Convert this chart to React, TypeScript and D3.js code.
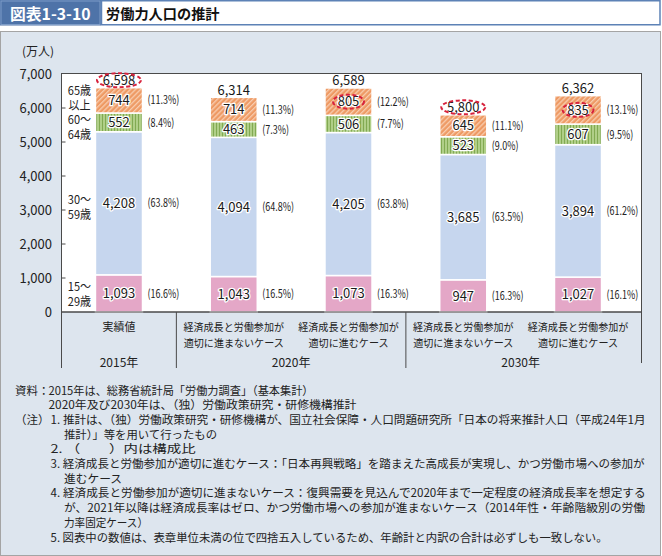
import React from 'react';
import * as d3 from 'd3';

const categories = [
  ['実績値'],
  ['経済成長と労働参加が', '適切に進まないケース'],
  ['経済成長と労働参加が', '適切に進むケース'],
  ['経済成長と労働参加が', '適切に進まないケース'],
  ['経済成長と労働参加が', '適切に進むケース'],
];
const yearLabels = ['2015年', '2020年', '2030年'];
const yearFirst = [0, 1, 3];
const yearLast = [0, 2, 4];

const age15to29 = [1093, 1043, 1073, 947, 1027];
const age30to59 = [4208, 4094, 4205, 3685, 3894];
const age60to64 = [552, 463, 506, 523, 607];
const age65plus = [744, 714, 805, 645, 835];
const totals = [6598, 6314, 6589, 5800, 6362];

const pct15to29 = ['16.6', '16.5', '16.3', '16.3', '16.1'];
const pct30to59 = ['63.8', '64.8', '63.8', '63.5', '61.2'];
const pct60to64 = ['8.4', '7.3', '7.7', '9.0', '9.5'];
const pct65plus = ['11.3', '11.3', '12.2', '11.1', '13.1'];

const ageLabels = [['15～', '29歳'], ['30～', '59歳'], ['60～', '64歳'], ['65歳', '以上']];
const highlightTotal = [true, false, false, true, false];
const highlight65 = [false, false, true, false, true];

const yTicks = [0, 1000, 2000, 3000, 4000, 5000, 6000, 7000];

const sourceLabel = '資料：';
const noteLabel = '（注）';
const notes = [
  '2015年は、総務省統計局「労働力調査」（基本集計）',
  '2020年及び2030年は、（独）労働政策研究・研修機構推計',
  '1. 推計は、（独）労働政策研究・研修機構が、国立社会保障・人口問題研究所「日本の将来推計人口（平成24年1月',
  '推計）」等を用いて行ったもの',
  '2. （　　）内は構成比',
  '3. 経済成長と労働参加が適切に進むケース：「日本再興戦略」を踏まえた高成長が実現し、かつ労働市場への参加が',
  '進むケース',
  '4. 経済成長と労働参加が適切に進まないケース：復興需要を見込んで2020年まで一定程度の経済成長率を想定する',
  'が、2021年以降は経済成長率はゼロ、かつ労働市場への参加が進まないケース（2014年性・年齢階級別の労働',
  '力率固定ケース）',
  '5. 図表中の数値は、表章単位未満の位で四捨五入しているため、年齢計と内訳の合計は必ずしも一致しない。',
];
const noteX = [48.5, 48.5, 50.6, 64, 50.6, 50.6, 64, 50.6, 64, 64, 50.6];
const noteW = [265, 308, 595, 153, 145, 594, 58, 595, 581, 84, 557];

const FONT = "'Noto Sans CJK JP', 'Noto Sans', sans-serif";

export default function App() {
  const W = 662, H = 556;
  const plotL = 61, plotR = 642, plotT = 73.5, plotB = 312;
  const y = d3.scaleLinear().domain([0, 7000]).range([312, 74]);
  const x = d3.scaleBand<number>().domain(d3.range(5)).range([61.6, 635.4]).paddingInner(0.59).paddingOuter(0.295);
  const bw = x.bandwidth();
  const step = x.step();

  const seriesVals = [age15to29, age30to59, age60to64, age65plus];
  const seriesPct = [pct15to29, pct30to59, pct60to64, pct65plus];
  const fills = ['#e4a7c7', '#c6d6ee', 'url(#stripeGreen)', 'url(#hatchOrange)'];
  const labelDy = [1, 4, 5, -2];

  const stacked = d3.stack<number, number>()
    .keys([0, 1, 2, 3])
    .value((d, k) => seriesVals[k][d])(d3.range(5));

  const fmt = d3.format(',');
  const cx = (i: number) => (x(i) as number) + bw / 2;
  const boundary = (i: number) => (x(i) as number) - (step - bw) / 2;

  const sepXs = [plotL + 0.5, boundary(1), boundary(3)];

  return (
    <div style={{ position: 'absolute', left: 0, top: 0 }}>
      <svg width={W} height={H} style={{ display: 'block', fontFamily: FONT }}>
        <defs>
          <pattern id="hatchOrange" patternUnits="userSpaceOnUse" width="3.6" height="3.6" patternTransform="rotate(45)">
            <rect width="3.6" height="3.6" fill="#ee9a64" />
            <rect width="1.3" height="3.6" fill="#f8cdb0" />
          </pattern>
          <pattern id="stripeGreen" patternUnits="userSpaceOnUse" width="3" height="3">
            <rect width="3" height="3" fill="#b0cf88" />
            <rect width="1" height="3" fill="#82aa52" />
          </pattern>
        </defs>

        {/* title */}
        <rect x={0} y={0} width={101} height={25.5} fill="#4e73a8" />
        <rect x={1} y={1} width={99} height={23.5} fill="none" stroke="#7d9cc7" strokeWidth={1} />
        <text x={10} y={19.5} fill="#fff" fontSize={15.8} fontWeight={700}>図表1-3-10</text>
        <rect x={101.5} y={0.75} width={558.5} height={24} fill="#fff" stroke="#5d82b6" strokeWidth={1.5} />
        <text x={106} y={18.5} fill="#111" fontSize={14.2} fontWeight={700}>労働力人口の推計</text>

        {/* panel */}
        <rect x={0.5} y={31.5} width={660} height={524} fill="#dde5ee" stroke="#a4a4a4" strokeWidth={1} />

        {/* plot area */}
        <rect x={plotL + 0.5} y={plotT} width={plotR - plotL - 1} height={plotB - plotT} fill="#fff" stroke="#4a4a4a" strokeWidth={1} />

        <text x={22} y={56} fontSize={12} fill="#222">(万人)</text>

        {yTicks.map(t => (
          <g key={t}>
            <text x={52} y={y(t)} dy="0.36em" textAnchor="end" fontSize={13} fill="#222">{fmt(t)}</text>
            {t > 0 && t < 7000 && (
              <line x1={plotL} x2={plotL + 4.5} y1={y(t)} y2={y(t)} stroke="#4a4a4a" strokeWidth={1} />
            )}
          </g>
        ))}

        {/* bars */}
        {stacked.map((layer, k) => (
          <g key={k}>
            {layer.map((d, i) => (
              <rect key={i} x={x(i)} y={y(d[1])} width={bw} height={y(d[0]) - y(d[1])}
                fill={fills[k]} stroke="#fff" strokeWidth={1.5} />
            ))}
          </g>
        ))}

        {/* value labels */}
        {stacked.map((layer, k) => (
          <g key={'v' + k}>
            {layer.map((d, i) => {
              const my = (y(d[0]) + y(d[1])) / 2;
              return (
                <g key={i}>
                  <text x={cx(i)} y={my} dy="0.36em" textAnchor="middle" fontSize={13} fill="#1a1a1a"
                    stroke="#fff" strokeWidth={2.5} paintOrder="stroke" strokeLinejoin="round">
                    {fmt(seriesVals[k][i])}
                  </text>
                  {k === 3 && highlight65[i] && (
                    <ellipse cx={cx(i)} cy={my} rx={15.5} ry={7} fill="none" stroke="#d7223c" strokeWidth={2} strokeDasharray="4 2.5" />
                  )}
                  <g transform={`translate(${(x(i) as number) + bw + 5},${my}) scale(0.78,1)`}>
                    <text x={0} y={0} dy="0.36em" fontSize={11.5} fill="#222">({seriesPct[k][i]}%)</text>
                  </g>
                </g>
              );
            })}
          </g>
        ))}

        {/* totals */}
        {totals.map((t, i) => {
          const top = y(stacked[3][i][1]) - 7.5;
          return (
            <g key={'t' + i}>
              <text x={cx(i)} y={top} dy="0.36em" textAnchor="middle" fontSize={13} fill="#1a1a1a">{fmt(t)}</text>
              {highlightTotal[i] && (
                <ellipse cx={cx(i)} cy={top} rx={22} ry={7} fill="none" stroke="#d7223c" strokeWidth={2} strokeDasharray="4 2.5" />
              )}
            </g>
          );
        })}

        {/* age labels */}
        {ageLabels.map((lines, k) => {
          const d = stacked[k][0];
          const my = (y(d[0]) + y(d[1])) / 2 + labelDy[k];
          return (
            <g key={'a' + k} transform={`translate(79.5,${my}) scale(0.92,1)`}>
              <text x={0} y={-7.3} dy="0.36em" textAnchor="middle" fontSize={12} fill="#222">
                <tspan x={0}>{lines[0]}</tspan>
                <tspan x={0} dy={14.6}>{lines[1]}</tspan>
              </text>
            </g>
          );
        })}

        {/* axis line */}
        <line x1={plotL} x2={plotR} y1={plotB} y2={plotB} stroke="#4a4a4a" strokeWidth={1.2} />
        {sepXs.map((sx, j) => (
          <line key={'s' + j} x1={sx} x2={sx} y1={plotB} y2={368} stroke="#4a4a4a" strokeWidth={1} />
        ))}
        <line x1={plotR - 0.5} x2={plotR - 0.5} y1={plotB} y2={363} stroke="#4a4a4a" strokeWidth={1} />

        {/* category labels */}
        {categories.map((lines, i) => (
          <g key={'c' + i} transform={`translate(${cx(i)},0) scale(0.95,1)`}>
            {lines.map((ln, j) => (
              <text key={j} x={0} y={327 + j * 16} dy="0.36em" textAnchor="middle" fontSize={lines.length === 1 ? 11.5 : 10.6} fill="#222">{ln}</text>
            ))}
          </g>
        ))}
        {yearLabels.map((yl, g) => (
          <text key={'y' + g} x={(cx(yearFirst[g]) + cx(yearLast[g])) / 2} y={363} dy="0.36em" textAnchor="middle" fontSize={12} fill="#222">{yl}</text>
        ))}

        {/* notes */}
        <text x={15} y={394.5} fontSize={11.5} fill="#222">{sourceLabel}</text>
        <text x={15} y={394.5 + 2 * 14.7} fontSize={11.5} fill="#222">{noteLabel}</text>
        {notes.map((n, j) => (
          <text key={'n' + j} x={noteX[j]} y={394.5 + j * 14.7} fontSize={11.5} fill="#222"
            textLength={noteW[j]} lengthAdjust="spacingAndGlyphs">{n}</text>
        ))}
      </svg>
    </div>
  );
}
